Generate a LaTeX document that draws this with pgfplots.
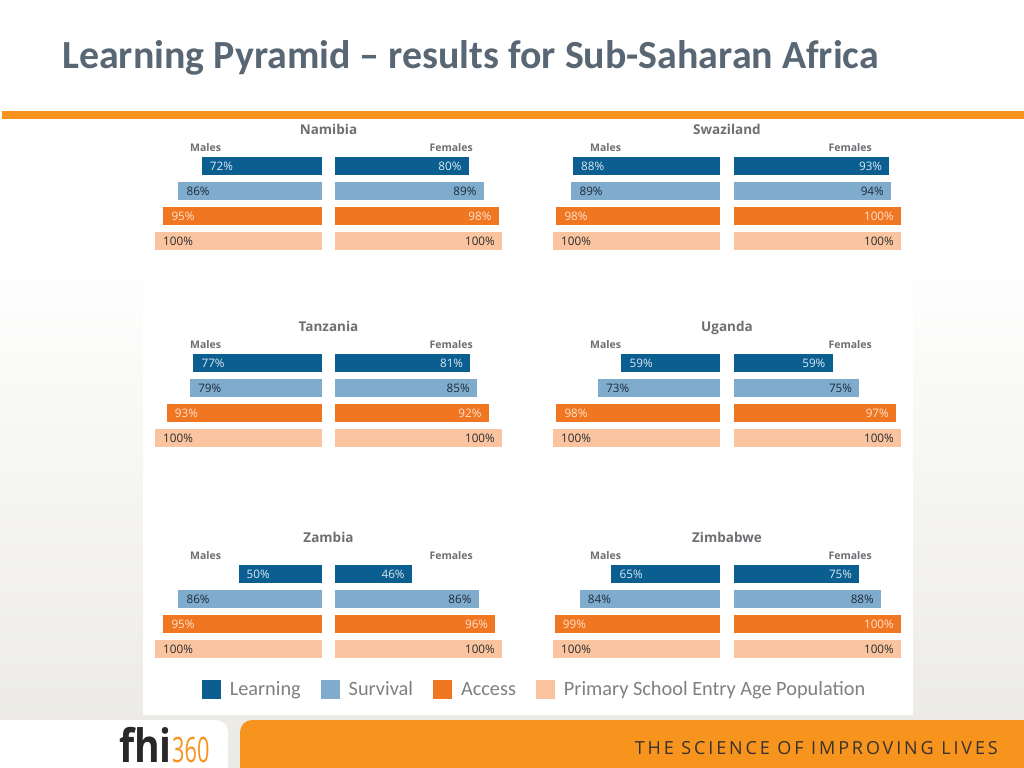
\documentclass[border=0pt]{standalone}
\usepackage{pgfplots}
\pgfplotsset{compat=1.18}
\usepackage{fontspec}
\setmainfont{Open Sans}
\newfontfamily\calfont{Carlito}
\newfontfamily\logoA[FakeStretch=0.85]{Open Sans}
\newfontfamily\logoB[FakeStretch=0.62]{Open Sans}
\newfontfamily\tagfont[LetterSpace=16]{Open Sans}

\definecolor{learn}{RGB}{11,94,144}
\definecolor{surv}{RGB}{127,171,205}
\definecolor{access}{RGB}{241,118,34}
\definecolor{pop}{RGB}{250,196,160}
\definecolor{learnlab}{RGB}{220,233,243}
\definecolor{survlab}{RGB}{29,43,58}
\definecolor{accesslab}{RGB}{253,227,207}
\definecolor{poplab}{RGB}{43,43,43}
\definecolor{titlegray}{RGB}{88,103,115}
\definecolor{panelgray}{RGB}{110,110,115}
\definecolor{legendgray}{RGB}{128,128,128}
\definecolor{band}{RGB}{247,148,30}
\definecolor{bggray}{RGB}{234,233,228}
\definecolor{logodark}{RGB}{40,40,40}
\definecolor{tagdark}{RGB}{55,50,45}

\pgfplotsset{
  pyr/.style={xbar, scale only axis, width=167bp, height=100bp,
    xmin=0, xmax=100, ymin=0.5, ymax=4.5, y dir=reverse, hide axis,
    bar width=17.5bp, bar shift=0pt, clip=false,
    /pgf/number format/assume math mode=true,
    nodes near coords={\pgfmathprintnumber{\pgfplotspointmeta}\%},
    every node near coord/.append style={font=\fontsize{11.7bp}{12bp}\selectfont, inner sep=0pt}},
  lab/.style={every node near coord/.append style={text=#1}},
}

% males: right edge x, top y, four values
\newcommand{\males}[6]{%
\begin{axis}[pyr, x dir=reverse, at={(#1bp,-#2bp)}, anchor=north east,
  nodes near coords align={anchor=west},
  every node near coord/.append style={anchor=west, xshift=8bp}]
\addplot[draw=none, fill=learn, lab=learnlab] coordinates {(#3,1)};
\addplot[draw=none, fill=surv, lab=survlab] coordinates {(#4,2)};
\addplot[draw=none, fill=access, lab=accesslab] coordinates {(#5,3)};
\addplot[draw=none, fill=pop, lab=poplab] coordinates {(#6,4)};
\end{axis}}
\newcommand{\females}[6]{%
\begin{axis}[pyr, at={(#1bp,-#2bp)}, anchor=north west,
  nodes near coords align={anchor=east},
  every node near coord/.append style={anchor=east, xshift=-7bp}]
\addplot[draw=none, fill=learn, lab=learnlab] coordinates {(#3,1)};
\addplot[draw=none, fill=surv, lab=survlab] coordinates {(#4,2)};
\addplot[draw=none, fill=access, lab=accesslab] coordinates {(#5,3)};
\addplot[draw=none, fill=pop, lab=poplab] coordinates {(#6,4)};
\end{axis}}
% title: center x, top y, name, males x (left), females x (right)
\newcommand{\ptitle}[5]{%
\pgfmathsetmacro{\tb}{#2-19.5}\pgfmathsetmacro{\sb}{#2-2.5}
\node[anchor=base, text=panelgray, font=\fontsize{13.5bp}{14bp}\selectfont\bfseries, inner sep=0pt] at (#1bp,-\tb bp) {#3};
\node[anchor=base west, text=panelgray, font=\fontsize{10.5bp}{12bp}\selectfont\bfseries, inner sep=0pt] at (#4bp,-\sb bp) {Males};
\node[anchor=base east, text=panelgray, font=\fontsize{10.5bp}{12bp}\selectfont\bfseries, inner sep=0pt] at (#5bp,-\sb bp) {Females};}

\begin{document}
\begin{tikzpicture}
\useasboundingbox (0bp,0bp) rectangle (1024bp,-768bp);
\fill[white] (0bp,0bp) rectangle (1024bp,-768bp);
\shade[top color=white, bottom color=bggray] (0bp,-250bp) rectangle (1024bp,-768bp);
\fill[white] (143bp,-272bp) rectangle (913bp,-715bp);
\fill[white] (0bp,-119bp) rectangle (1024bp,-272bp);
% title
\node[anchor=base west, inner sep=0pt, text=titlegray, font=\calfont\fontsize{39.9bp}{42bp}\selectfont\bfseries] at (62bp,-68bp) {Learning Pyramid – results for Sub-Saharan Africa};
\fill[band] (2bp,-111bp) rectangle (1024bp,-119bp);
% footer
\fill[white, rounded corners=12bp] (-20bp,-720bp) rectangle (228bp,-800bp);
\fill[band, rounded corners=12bp] (240bp,-720bp) rectangle (1060bp,-800bp);
\node[anchor=base east, inner sep=0pt, text=logodark, font=\logoA\fontsize{46bp}{46bp}\selectfont\bfseries] at (172bp,-762bp) {fhi};
\node[anchor=base west, inner sep=0pt, text=band, font=\logoB\fontsize{35bp}{35bp}\selectfont] at (172bp,-762bp) {360};
\node[anchor=base east, inner sep=0pt, text=tagdark, font=\tagfont\fontsize{18bp}{18bp}\selectfont] at (998bp,-754bp) {THE SCIENCE OF IMPROVING LIVES};

% panels
\ptitle{328.5}{153.5}{Namibia}{190}{473}
\males{322}{153.5}{72}{86}{95}{100}
\females{335}{153.5}{80}{89}{98}{100}
\ptitle{727}{153.5}{Swaziland}{590}{872}
\males{720}{153.5}{88}{89}{98}{100}
\females{734}{153.5}{93}{94}{100}{100}
\ptitle{328.5}{350.5}{Tanzania}{190}{473}
\males{322}{350.5}{77}{79}{93}{100}
\females{335}{350.5}{81}{85}{92}{100}
\ptitle{727}{350.5}{Uganda}{590}{872}
\males{720}{350.5}{59}{73}{98}{100}
\females{734}{350.5}{59}{75}{97}{100}
\ptitle{328.5}{561.5}{Zambia}{190}{473}
\males{322}{561.5}{50}{86}{95}{100}
\females{335}{561.5}{46}{86}{96}{100}
\ptitle{727}{561.5}{Zimbabwe}{590}{872}
\males{720}{561.5}{65}{84}{99}{100}
\females{734}{561.5}{75}{88}{100}{100}

% legend
\begin{axis}[at={(534.5bp,-689bp)}, anchor=center, hide axis, scale only axis,
  width=10bp, height=10bp, xmin=0, xmax=1, ymin=0, ymax=1,
  legend columns=4,
  legend image code/.code={\fill[#1, draw=none] (0bp,-9.5bp) rectangle (19bp,9.5bp);},
  legend style={at={(0.5,0.5)}, anchor=center, draw=none, fill=none,
    font=\calfont\fontsize{20.3bp}{21bp}\selectfont, text=legendgray,
    nodes={text height=17.5bp, text depth=4.5bp},
    /tikz/every odd column/.append style={column sep=7bp},
    /tikz/every even column/.append style={column sep=18bp}}]
\addlegendimage{fill=learn, draw=none}\addlegendentry{Learning}
\addlegendimage{fill=surv, draw=none}\addlegendentry{Survival}
\addlegendimage{fill=access, draw=none}\addlegendentry{Access}
\addlegendimage{fill=pop, draw=none}\addlegendentry{Primary School Entry Age Population}
\end{axis}
\end{tikzpicture}
\end{document}
